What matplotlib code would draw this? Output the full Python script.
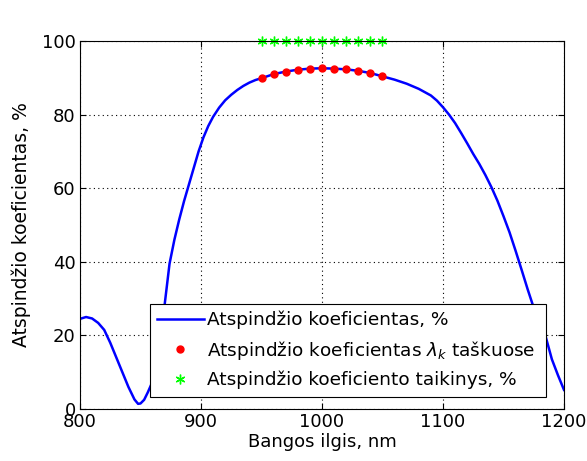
import numpy as np
import matplotlib
matplotlib.use("Agg")
import matplotlib.pyplot as plt

plt.rcParams['font.family'] = ['DejaVu Sans']

# reflectance curve
wl = [800, 805, 810, 815, 820, 825, 830, 835, 840, 845, 848, 850, 853, 856, 860,
      864, 867, 870, 874, 878, 882, 886, 890, 894, 898, 902, 906, 910, 915, 920,
      925, 930, 935, 940, 945, 950, 960, 970, 980, 990, 1000, 1010, 1020, 1030,
      1040, 1050, 1060, 1070, 1080, 1090, 1095, 1100, 1105, 1110, 1115, 1120,
      1125, 1130, 1135, 1140, 1145, 1150, 1155, 1160, 1165, 1170, 1175, 1180,
      1185, 1190, 1195, 1200]
refl = [24.5, 25.0, 24.6, 23.4, 21.5, 18.0, 14.0, 10.0, 6.0, 2.6, 1.4, 1.5, 2.5,
        4.5, 7.5, 13.0, 20.0, 28.5, 39.5, 46.0, 51.5, 56.5, 61.0, 65.5, 70.0,
        73.8, 76.9, 79.4, 81.9, 83.9, 85.4, 86.7, 87.8, 88.7, 89.4, 89.9, 91.0,
        91.7, 92.2, 92.5, 92.6, 92.5, 92.3, 91.9, 91.3, 90.4, 89.5, 88.4, 87.0,
        85.2, 83.8, 82.0, 80.0, 77.7, 75.0, 72.2, 69.3, 66.6, 63.6, 60.3, 56.6,
        52.4, 48.0, 43.0, 37.8, 32.5, 27.5, 23.5, 19.5, 13.5, 9.2, 5.2]

# values at the lambda_k points
wl_k = [950, 960, 970, 980, 990, 1000, 1010, 1020, 1030, 1040, 1050]
refl_k = [89.9, 91.0, 91.7, 92.2, 92.5, 92.6, 92.5, 92.3, 91.9, 91.3, 90.4]
target_k = [100] * len(wl_k)

fig = plt.figure(figsize=(5.87, 4.61), dpi=100)
ax = fig.add_axes([0.1363, 0.1128, 0.8245, 0.7982])

ax.plot(wl, refl, color='blue', lw=1.8, label='Atspindžio koeficientas, %')
ax.plot(wl_k, refl_k, 'o', color='red', ms=5, mec='red',
        label=r'Atspindžio koeficientas $\lambda_k$ taškuose')
ax.plot(wl_k, target_k, marker=(6, 2, 0), ls='none', color='#00ff00', ms=7,
        mew=1.0, clip_on=False, label='Atspindžio koeficiento taikinys, %')

ax.set_xlim(800, 1200)
ax.set_ylim(0, 100)
ax.set_xticks(range(800, 1201, 100))
ax.set_yticks(range(0, 101, 20))
ax.grid(True, color='black', linestyle=(0, (1, 3)), lw=0.8)
ax.tick_params(direction='in', top=True, right=True, labelsize=13, length=4,
               pad=3)
for s in ax.spines.values():
    s.set_linewidth(0.8)

ax.set_xlabel('Bangos ilgis, nm', fontsize=13, labelpad=1)
ax.set_ylabel('Atspindžio koeficientas, %', fontsize=13.5, labelpad=8)

leg = ax.legend(loc='lower left', bbox_to_anchor=(0.1446, 0.033, 0.8174, 0.257),
                mode='expand', fontsize=13.3, numpoints=1, fancybox=False,
                framealpha=1, edgecolor='black', handlelength=2.5,
                borderaxespad=0, labelspacing=0.5, handletextpad=0.2,
                borderpad=0.4)
leg.get_frame().set_linewidth(0.8)

fig.savefig('out.png', dpi=100)
